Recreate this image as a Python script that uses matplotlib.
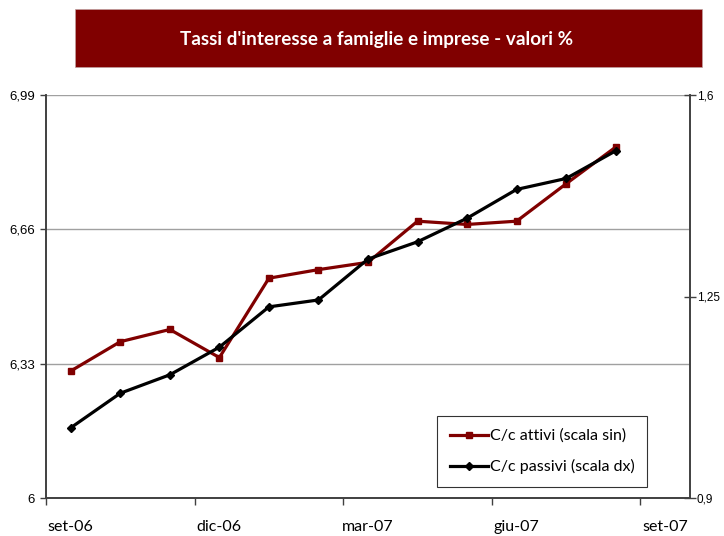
import matplotlib
matplotlib.use("Agg")
import matplotlib.pyplot as plt
from matplotlib.patches import Rectangle

# dati (mensili, set-06 .. ago-07)
mesi = ['set-06', 'ott-06', 'nov-06', 'dic-06', 'gen-07', 'feb-07', 'mar-07',
        'apr-07', 'mag-07', 'giu-07', 'lug-07', 'ago-07', 'set-07']
cc_attivi = [6.312, 6.384, 6.414, 6.345, 6.540, 6.561, 6.579,
             6.680, 6.672, 6.680, 6.772, 6.862]
cc_passivi = [1.022, 1.082, 1.114, 1.162, 1.232, 1.244, 1.315,
              1.345, 1.386, 1.436, 1.455, 1.503]
tick_sx = [6, 6.33, 6.66, 6.99]
tick_dx = [0.9, 1.25, 1.6]
etichette_x = ['set-06', 'dic-06', 'mar-07', 'giu-07', 'set-07']

rosso = '#800000'
W, H = 724, 536

fig = plt.figure(figsize=(W / 100, H / 100), dpi=100)
ax = fig.add_axes([46 / W, 1 - 498 / H, (690 - 46) / W, (498 - 95) / H])
ax2 = ax.twinx()

x = list(range(len(cc_attivi)))
l1, = ax.plot(x, cc_attivi, color=rosso, lw=2.3, marker='s', ms=5,
              label='C/c attivi (scala sin)', zorder=3)
l2, = ax2.plot(x, cc_passivi, color='black', lw=2.3, marker='D', ms=4.5,
               label='C/c passivi (scala dx)', zorder=3)

ax.set_xlim(-0.5, len(mesi) - 0.5)
ax.set_ylim(6, 6.99)
ax2.set_ylim(0.9, 1.6)

# asse x: tacche tra le categorie, etichette ogni 3 mesi
ax.set_xticks([-0.5, 2.5, 5.5, 8.5, 11.5])
ax.set_xticklabels([])
ax.set_xticks([mesi.index(m) for m in etichette_x], minor=True)
ax.set_xticklabels(etichette_x, minor=True, fontsize=11.5, family='Lato')
ax.tick_params(axis='x', which='major', length=5, width=1, color='#404040')
ax.tick_params(axis='x', which='minor', length=0, pad=16)

ax.set_yticks(tick_sx)
ax.set_yticklabels([str(v).replace('.', ',') if v != 6 else '6' for v in tick_sx],
                   fontsize=9.5, family='Liberation Sans')
ax.tick_params(axis='y', length=4, width=1, color='#404040', pad=4)
ax.yaxis.grid(True, color='#a0a0a0', lw=1)
ax.set_axisbelow(True)

ax2.set_yticks(tick_dx)
ax2.set_yticklabels([str(v).replace('.', ',') for v in tick_dx],
                    fontsize=8.5, family='Liberation Sans')
ax2.tick_params(axis='y', length=8, width=1, color='#404040', direction='inout', pad=1)

for a in (ax, ax2):
    a.spines['top'].set_visible(False)
    for s in ('left', 'right', 'bottom'):
        a.spines[s].set_color('#404040')
        a.spines[s].set_linewidth(1.2)

leg = ax2.legend(handles=[l1, l2], loc='lower left',
                 bbox_to_anchor=((437 - 46) / (690 - 46), (498 - 487) / (498 - 95)),
                 prop={'family': 'Lato', 'size': 11.5}, frameon=True, fancybox=False,
                 edgecolor='black', borderpad=0.8, labelspacing=1.0,
                 handlelength=2.4, handletextpad=0.1, borderaxespad=0)
leg.get_frame().set_linewidth(0.8)

# titolo in riquadro
fig.patches.append(Rectangle((75 / W, 1 - 67 / H), (702 - 75) / W, 58 / H,
                             transform=fig.transFigure, facecolor=rosso,
                             edgecolor='#c0a0a0', lw=0.5))
fig.text(377 / W, 1 - 39 / H,
         "Tassi d'interesse a famiglie e imprese - valori %",
         color='white', fontsize=13.6, fontweight='bold', family='Lato',
         ha='center', va='center')

fig.savefig('out.png', dpi=100)
